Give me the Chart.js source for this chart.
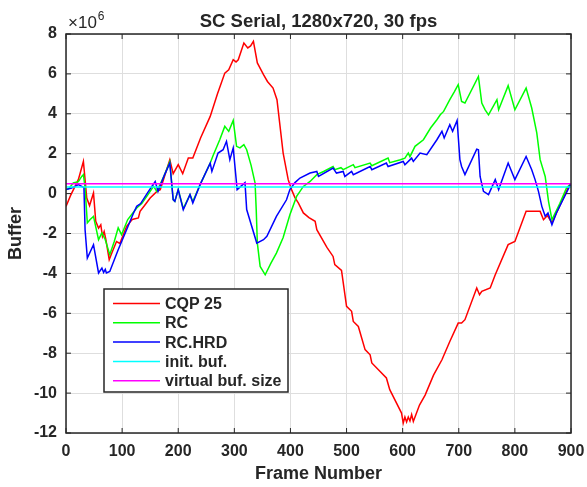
<!DOCTYPE html>
<html>
<head>
<meta charset="utf-8">
<script src="https://cdn.jsdelivr.net/npm/chart.js@4.4.1/dist/chart.umd.min.js"></script>
<style>
  html, body { margin: 0; padding: 0; background: #fff; }
  canvas { display: block; }
</style>
</head>
<body>
<canvas id="bufChart" width="587" height="487"></canvas>
<script>
// Buffer levels, in units of 10^6
const cqpFrames = [0, 8, 15, 22, 31, 37, 42, 49, 53, 58, 62, 65, 68, 71, 77, 82, 90, 96, 108, 118, 129, 132, 140, 150, 162, 168, 185, 191, 200, 208, 218, 226, 240, 257, 270, 283, 290, 298, 303, 307, 317, 324, 329, 334, 341, 352, 359, 369, 376, 387, 396, 402, 408, 414, 423, 433, 444, 447, 465, 476, 479, 491, 500, 509, 512, 521, 533, 542, 545, 571, 577, 598, 601, 604, 607, 610, 613, 616, 619, 630, 640, 655, 670, 684, 699, 705, 711, 732, 737, 741, 756, 765, 788, 800, 820, 845, 851, 858, 866, 880, 896, 900];
const cqpValues = [-0.64, -0.1, 0.3, 0.7, 1.61, -0.22, -0.6, 0.03, -1.39, -1.73, -1.56, -2.14, -1.9, -2.3, -3.31, -2.95, -2.4, -2.5, -1.64, -1.3, -1.22, -0.89, -0.6, -0.22, 0.11, 0.2, 1.7, 1.0, 1.45, 1.0, 1.78, 1.78, 2.8, 3.87, 5.0, 6.04, 6.21, 6.71, 6.6, 6.71, 7.55, 7.3, 7.4, 7.63, 6.55, 5.96, 5.62, 5.29, 4.71, 2.03, 0.7, 0.2, -0.2, -0.47, -0.97, -1.2, -1.39, -1.81, -2.7, -3.15, -3.56, -3.85, -5.65, -5.9, -6.41, -6.66, -7.82, -8.08, -8.49, -9.24, -9.83, -11.0, -11.5, -11.2, -11.45, -11.2, -11.4, -11.08, -11.42, -10.6, -10.1, -9.1, -8.33, -7.41, -6.49, -6.49, -6.32, -4.73, -5.07, -4.9, -4.73, -4.07, -2.56, -2.4, -0.89, -0.89, -1.31, -1.1, -1.47, -0.6, 0.36, 0.5];

const rcFrames = [0, 5, 13, 22, 28, 31, 34, 38, 43, 49, 58, 64, 70, 78, 86, 93, 99, 110, 126, 135, 144, 156, 162, 175, 185, 191, 194, 200, 209, 221, 226, 239, 257, 262, 274, 283, 290, 298, 304, 310, 317, 322, 330, 337, 339, 341, 346, 355, 365, 375, 387, 399, 411, 423, 435, 447, 459, 476, 479, 490, 494, 512, 515, 542, 545, 574, 577, 596, 604, 608, 610, 613, 622, 637, 650, 661, 667, 673, 684, 692, 699, 705, 711, 735, 741, 747, 753, 768, 771, 788, 800, 820, 830, 839, 845, 854, 860, 866, 880, 892, 900];
const rcValues = [0.2, 0.25, 0.53, 0.6, 0.86, 0.95, 0.3, -1.47, -1.3, -1.14, -2.31, -1.97, -2.31, -3.06, -2.4, -1.72, -2.06, -1.3, -0.72, -0.5, -0.14, 0.36, 0.11, 0.9, 1.6, -0.3, -0.39, 0.2, -0.75, -0.05, -0.4, 0.45, 1.53, 1.9, 2.7, 3.37, 3.12, 3.67, 2.37, 2.29, 2.45, 2.2, 1.4, 0.53, -0.8, -2.48, -3.65, -4.07, -3.5, -2.98, -2.2, -1.06, -0.14, 0.36, 0.61, 0.95, 1.11, 1.36, 1.2, 1.3, 1.2, 1.45, 1.3, 1.53, 1.4, 1.78, 1.55, 1.7, 1.78, 1.95, 2.03, 1.85, 2.37, 2.7, 3.3, 3.7, 3.95, 4.12, 4.71, 5.1, 5.46, 4.62, 4.54, 5.87, 4.54, 4.2, 3.95, 4.71, 4.2, 5.41, 4.2, 5.29, 4.29, 3.04, 1.7, 0.86, -0.4, -1.31, -0.5, 0.28, 0.5];

const hrdFrames = [0, 10, 16, 22, 28, 32, 34, 38, 49, 58, 64, 67, 70, 72, 78, 93, 108, 120, 126, 133, 147, 159, 164, 175, 185, 191, 194, 200, 209, 221, 226, 239, 257, 260, 271, 280, 286, 292, 298, 305, 319, 322, 340, 352, 358, 375, 393, 399, 408, 417, 435, 447, 450, 476, 482, 494, 497, 509, 512, 542, 545, 571, 574, 601, 604, 616, 619, 631, 643, 661, 670, 674, 684, 689, 697, 702, 705, 711, 732, 735, 738, 744, 753, 765, 771, 788, 800, 820, 830, 836, 842, 848, 854, 859, 866, 874, 900];
const hrdValues = [0.2, 0.28, 0.36, 0.45, 0.36, 0.3, -1.81, -3.23, -2.56, -3.98, -3.73, -3.95, -3.8, -3.98, -3.9, -2.81, -1.81, -1.0, -0.64, -0.5, 0.11, 0.61, 0.11, 0.9, 1.53, -0.3, -0.39, 0.2, -0.81, -0.05, -0.47, 0.45, 1.53, 1.11, 2.03, 2.2, 2.62, 1.7, 2.29, 0.2, 0.55, -0.8, -2.48, -2.31, -2.14, -1.14, -0.31, 0.2, 0.55, 0.78, 1.03, 1.11, 0.86, 1.28, 1.03, 1.11, 0.86, 1.11, 0.95, 1.36, 1.2, 1.53, 1.36, 1.61, 1.45, 1.78, 1.61, 2.03, 1.95, 2.7, 3.12, 2.79, 3.45, 3.12, 3.67, 1.7, 1.36, 0.95, 2.23, 2.2, 0.86, 0.11, -0.05, 0.7, 0.2, 1.53, 0.7, 1.86, 1.2, 0.7, 0.11, -0.64, -1.14, -0.97, -1.56, -0.97, 0.5];

const initBuf = 0.33;
const virtualBufSize = 0.5;

const seriesLabels = ['CQP 25', 'RC', 'RC.HRD', 'init. buf.', 'virtual buf. size'];
const seriesColors = ['#ff0000', '#00ff00', '#0000ff', '#00ffff', '#ff00ff'];

const xTicks = [0, 100, 200, 300, 400, 500, 600, 700, 800, 900];
const yTicks = [-12, -10, -8, -6, -4, -2, 0, 2, 4, 6, 8];

const FONT = "'Liberation Sans', Arial, Helvetica, sans-serif";
const INK = '#262626';

function toPoints(frames, values) {
    return frames.map((f, i) => ({ x: f, y: values[i] }));
}

// title, exponent, box with inward ticks, legend
const matlabLook = {
    id: 'matlabLook',
    afterDatasetsDraw(chart) {
        const { ctx, chartArea: a, scales } = chart;
        ctx.save();

        // axes box
        ctx.strokeStyle = INK;
        ctx.lineWidth = 1.5;
        ctx.strokeRect(a.left, a.top, a.right - a.left, a.bottom - a.top);

        // inward ticks
        ctx.lineWidth = 1;
        ctx.beginPath();
        xTicks.forEach(t => {
            const x = scales.x.getPixelForValue(t);
            ctx.moveTo(x, a.bottom); ctx.lineTo(x, a.bottom - 5);
            ctx.moveTo(x, a.top); ctx.lineTo(x, a.top + 5);
        });
        yTicks.forEach(t => {
            const y = scales.y.getPixelForValue(t);
            ctx.moveTo(a.left, y); ctx.lineTo(a.left + 5, y);
            ctx.moveTo(a.right, y); ctx.lineTo(a.right - 5, y);
        });
        ctx.stroke();

        // title
        ctx.fillStyle = INK;
        ctx.textAlign = 'center';
        ctx.textBaseline = 'alphabetic';
        ctx.font = 'bold 18.5px ' + FONT;
        ctx.fillText('SC Serial, 1280x720, 30 fps', (a.left + a.right) / 2, 27);

        // exponent
        ctx.textAlign = 'left';
        ctx.font = '17px ' + FONT;
        ctx.fillText('\u00d710', a.left + 2, 28);
        const w = ctx.measureText('\u00d710').width;
        ctx.font = '12px ' + FONT;
        ctx.fillText('6', a.left + 2 + w + 1, 20);

        // legend
        const lx = 104, ly = 289, lw = 184, lh = 103;
        ctx.fillStyle = '#ffffff';
        ctx.fillRect(lx, ly, lw, lh);
        ctx.strokeStyle = INK;
        ctx.lineWidth = 1.5;
        ctx.strokeRect(lx, ly, lw, lh);
        ctx.font = 'bold 16px ' + FONT;
        ctx.textBaseline = 'middle';
        seriesLabels.forEach((lab, i) => {
            const y = 303.5 + i * 19.3;
            ctx.strokeStyle = seriesColors[i];
            ctx.lineWidth = 1.5;
            ctx.beginPath();
            ctx.moveTo(113, y); ctx.lineTo(160, y);
            ctx.stroke();
            ctx.fillStyle = INK;
            ctx.fillText(lab, 165, y + 1);
        });
        ctx.restore();
    }
};

document.addEventListener('DOMContentLoaded', () => {
    const ctx = document.getElementById('bufChart').getContext('2d');

    const lineStyle = (i) => ({
        label: seriesLabels[i],
        borderColor: seriesColors[i],
        backgroundColor: seriesColors[i],
        borderWidth: 1.5,
        pointRadius: 0,
        tension: 0,
        fill: false,
        order: 5 - i
    });

    new Chart(ctx, {
        type: 'line',
        data: {
            datasets: [
                { ...lineStyle(0), data: toPoints(cqpFrames, cqpValues) },
                { ...lineStyle(1), data: toPoints(rcFrames, rcValues) },
                { ...lineStyle(2), data: toPoints(hrdFrames, hrdValues) },
                { ...lineStyle(3), data: toPoints([0, 900], [initBuf, initBuf]) },
                { ...lineStyle(4), data: toPoints([0, 900], [virtualBufSize, virtualBufSize]) }
            ]
        },
        options: {
            responsive: false,
            animation: false,
            layout: { padding: { top: 34, right: 16, left: 0, bottom: 0 } },
            plugins: {
                legend: { display: false },
                tooltip: { enabled: false }
            },
            scales: {
                x: {
                    type: 'linear',
                    min: 0,
                    max: 900,
                    afterFit: (s) => { s.height = 54; s.paddingLeft = 0; s.paddingRight = 0; },
                    afterBuildTicks: (s) => { s.ticks = xTicks.map(v => ({ value: v })); },
                    grid: { color: '#dedede', lineWidth: 1, drawTicks: false },
                    border: { display: false },
                    ticks: {
                        color: INK,
                        padding: 9,
                        maxRotation: 0,
                        font: { family: FONT, size: 16, weight: 'bold' }
                    },
                    title: {
                        display: true,
                        text: 'Frame Number',
                        color: INK,
                        padding: { top: 0, bottom: 2 },
                        font: { family: FONT, size: 18, weight: 'bold' }
                    }
                },
                y: {
                    min: -12,
                    max: 8,
                    afterFit: (s) => { s.width = 66; s.paddingTop = 0; s.paddingBottom = 0; },
                    afterBuildTicks: (s) => { s.ticks = yTicks.map(v => ({ value: v })); },
                    grid: { color: '#dedede', lineWidth: 1, drawTicks: false },
                    border: { display: false },
                    ticks: {
                        color: INK,
                        padding: 9,
                        font: { family: FONT, size: 16, weight: 'bold' }
                    },
                    title: {
                        display: true,
                        text: 'Buffer',
                        color: INK,
                        padding: { top: 5, bottom: 0 },
                        font: { family: FONT, size: 18, weight: 'bold' }
                    }
                }
            }
        },
        plugins: [matlabLook]
    });
});
</script>
</body>
</html>
